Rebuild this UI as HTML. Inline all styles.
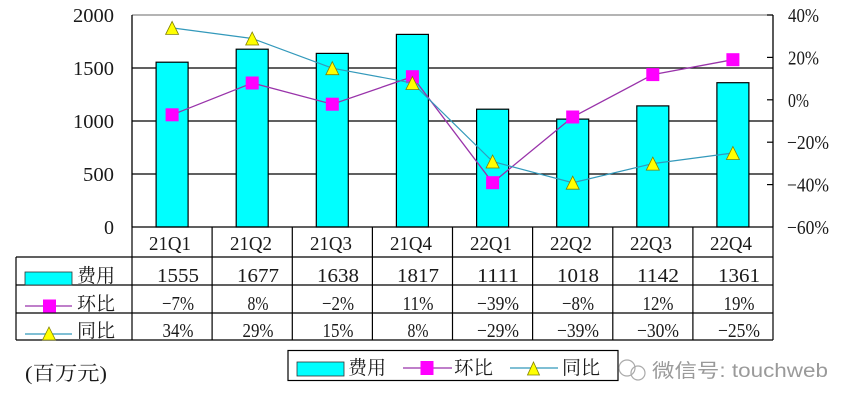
<!DOCTYPE html>
<html><head><meta charset="utf-8"><style>
html,body{margin:0;padding:0;background:#fff;}
svg{display:block;}
text{font-family:"Liberation Serif","Noto Serif CJK SC",serif;fill:#1a1a1a;}
.cj{font-family:"Liberation Serif","Noto Serif CJK SC",serif;}
</style></head><body>
<svg width="854" height="406" viewBox="0 0 854 406" xmlns="http://www.w3.org/2000/svg">
<rect width="854" height="406" fill="#fff"/>
<!-- gridlines -->
<line x1="132" y1="15" x2="773" y2="15" stroke="#888" stroke-width="1.2"/>
<g stroke="#000" stroke-width="1.3">
<line x1="132" y1="68" x2="773" y2="68"/>
<line x1="132" y1="121" x2="773" y2="121"/>
<line x1="132" y1="174" x2="773" y2="174"/>
</g>
<!-- bars -->
<g fill="#00ffff" stroke="#000" stroke-width="1.2">
<rect x="156.1" y="62.2" width="32" height="164.8"/>
<rect x="236.2" y="49.2" width="32" height="177.8"/>
<rect x="316.3" y="53.4" width="32" height="173.6"/>
<rect x="396.4" y="34.4" width="32" height="192.6"/>
<rect x="476.6" y="109.2" width="32" height="117.8"/>
<rect x="556.7" y="119.1" width="32" height="107.9"/>
<rect x="636.8" y="105.9" width="32" height="121.1"/>
<rect x="716.9" y="82.7" width="32" height="144.3"/>
</g>
<!-- axes -->
<line x1="132" y1="15" x2="132" y2="227" stroke="#000" stroke-width="1.3"/>
<line x1="773" y1="15" x2="773" y2="227" stroke="#000" stroke-width="1.3"/>
<g stroke="#000" stroke-width="1.2">
<line x1="767" y1="15" x2="773" y2="15"/>
<line x1="767" y1="57.4" x2="773" y2="57.4"/>
<line x1="767" y1="99.8" x2="773" y2="99.8"/>
<line x1="767" y1="142.2" x2="773" y2="142.2"/>
<line x1="767" y1="184.6" x2="773" y2="184.6"/>
</g>
<!-- 环比 line -->
<polyline fill="none" stroke="#9933aa" stroke-width="1.3" points="172.1,114.8 252.2,83 332.3,104.2 412.4,76.7 492.6,182.7 572.7,117 652.8,74.6 732.9,59.7"/>
<g fill="#ff00ff">
<rect x="165.6" y="108.3" width="13" height="13"/>
<rect x="245.7" y="76.5" width="13" height="13"/>
<rect x="325.8" y="97.7" width="13" height="13"/>
<rect x="405.9" y="70.2" width="13" height="13"/>
<rect x="486.1" y="176.2" width="13" height="13"/>
<rect x="566.2" y="110.5" width="13" height="13"/>
<rect x="646.3" y="68.1" width="13" height="13"/>
<rect x="726.4" y="53.2" width="13" height="13"/>
</g>
<!-- 同比 line -->
<polyline fill="none" stroke="#3399bb" stroke-width="1.2" points="172.1,27.9 252.2,38.5 332.3,68.2 412.4,83 492.6,161.5 572.7,182.7 652.8,163.6 732.9,153"/>
<g fill="#ffff00" stroke="#808000" stroke-width="0.8">
<polygon points="172.1,21.4 178.6,34.4 165.6,34.4"/>
<polygon points="252.2,32 258.7,45 245.7,45"/>
<polygon points="332.3,61.7 338.8,74.7 325.8,74.7"/>
<polygon points="412.4,76.5 418.9,89.5 405.9,89.5"/>
<polygon points="492.6,155 499.1,168 486.1,168"/>
<polygon points="572.7,176.2 579.2,189.2 566.2,189.2"/>
<polygon points="652.8,157.1 659.3,170.1 646.3,170.1"/>
<polygon points="732.9,146.5 739.4,159.5 726.4,159.5"/>
</g>
<!-- left axis labels -->
<g font-size="20" text-anchor="end">
<text x="114" y="22" textLength="41" lengthAdjust="spacingAndGlyphs">2000</text>
<text x="114" y="75" textLength="41" lengthAdjust="spacingAndGlyphs">1500</text>
<text x="114" y="128" textLength="41" lengthAdjust="spacingAndGlyphs">1000</text>
<text x="114" y="181" textLength="31" lengthAdjust="spacingAndGlyphs">500</text>
<text x="114" y="234">0</text>
</g>
<!-- right axis labels -->
<g font-size="20">
<text x="788" y="22" textLength="31" lengthAdjust="spacingAndGlyphs">40%</text>
<text x="788" y="64.4" textLength="31" lengthAdjust="spacingAndGlyphs">20%</text>
<text x="788" y="106.8" textLength="21" lengthAdjust="spacingAndGlyphs">0%</text>
<text x="787" y="149.2" textLength="42" lengthAdjust="spacingAndGlyphs">−20%</text>
<text x="787" y="191.6" textLength="42" lengthAdjust="spacingAndGlyphs">−40%</text>
<text x="787" y="234" textLength="42" lengthAdjust="spacingAndGlyphs">−60%</text>
</g>
<!-- table -->
<g stroke="#000" stroke-width="1.2">
<line x1="132" y1="227" x2="773" y2="227"/>
<line x1="16" y1="257" x2="773" y2="257"/>
<line x1="16" y1="285" x2="773" y2="285"/>
<line x1="16" y1="313" x2="773" y2="313"/>
<line x1="16" y1="340" x2="773" y2="340"/>
<line x1="16" y1="257" x2="16" y2="340"/>
<line x1="132" y1="227" x2="132" y2="340"/>
<line x1="212.1" y1="227" x2="212.1" y2="340"/>
<line x1="292.3" y1="227" x2="292.3" y2="340"/>
<line x1="372.4" y1="227" x2="372.4" y2="340"/>
<line x1="452.5" y1="227" x2="452.5" y2="340"/>
<line x1="532.6" y1="227" x2="532.6" y2="340"/>
<line x1="612.8" y1="227" x2="612.8" y2="340"/>
<line x1="692.9" y1="227" x2="692.9" y2="340"/>
<line x1="773" y1="227" x2="773" y2="340"/>
</g>
<g font-size="20" text-anchor="middle">
<text x="170" y="250" textLength="42" lengthAdjust="spacingAndGlyphs">21Q1</text>
<text x="251" y="250" textLength="42" lengthAdjust="spacingAndGlyphs">21Q2</text>
<text x="331" y="250" textLength="42" lengthAdjust="spacingAndGlyphs">21Q3</text>
<text x="411" y="250" textLength="42" lengthAdjust="spacingAndGlyphs">21Q4</text>
<text x="491" y="250" textLength="42" lengthAdjust="spacingAndGlyphs">22Q1</text>
<text x="571" y="250" textLength="42" lengthAdjust="spacingAndGlyphs">22Q2</text>
<text x="651" y="250" textLength="42" lengthAdjust="spacingAndGlyphs">22Q3</text>
<text x="731" y="250" textLength="42" lengthAdjust="spacingAndGlyphs">22Q4</text>

<text x="178" y="282" textLength="42" lengthAdjust="spacingAndGlyphs">1555</text>
<text x="258" y="282" textLength="42" lengthAdjust="spacingAndGlyphs">1677</text>
<text x="338" y="282" textLength="42" lengthAdjust="spacingAndGlyphs">1638</text>
<text x="418" y="282" textLength="42" lengthAdjust="spacingAndGlyphs">1817</text>
<text x="498" y="282" textLength="42" lengthAdjust="spacingAndGlyphs">1111</text>
<text x="578" y="282" textLength="42" lengthAdjust="spacingAndGlyphs">1018</text>
<text x="658" y="282" textLength="42" lengthAdjust="spacingAndGlyphs">1142</text>
<text x="739" y="282" textLength="42" lengthAdjust="spacingAndGlyphs">1361</text>

<text x="178" y="310" textLength="32" lengthAdjust="spacingAndGlyphs">−7%</text>
<text x="258" y="310" textLength="21" lengthAdjust="spacingAndGlyphs">8%</text>
<text x="338" y="310" textLength="32" lengthAdjust="spacingAndGlyphs">−2%</text>
<text x="418" y="310" textLength="31" lengthAdjust="spacingAndGlyphs">11%</text>
<text x="498" y="310" textLength="42" lengthAdjust="spacingAndGlyphs">−39%</text>
<text x="578" y="310" textLength="32" lengthAdjust="spacingAndGlyphs">−8%</text>
<text x="658" y="310" textLength="31" lengthAdjust="spacingAndGlyphs">12%</text>
<text x="739" y="310" textLength="31" lengthAdjust="spacingAndGlyphs">19%</text>

<text x="178" y="337" textLength="31" lengthAdjust="spacingAndGlyphs">34%</text>
<text x="258" y="337" textLength="31" lengthAdjust="spacingAndGlyphs">29%</text>
<text x="338" y="337" textLength="31" lengthAdjust="spacingAndGlyphs">15%</text>
<text x="418" y="337" textLength="21" lengthAdjust="spacingAndGlyphs">8%</text>
<text x="498" y="337" textLength="42" lengthAdjust="spacingAndGlyphs">−29%</text>
<text x="578" y="337" textLength="42" lengthAdjust="spacingAndGlyphs">−39%</text>
<text x="658" y="337" textLength="42" lengthAdjust="spacingAndGlyphs">−30%</text>
<text x="739" y="337" textLength="42" lengthAdjust="spacingAndGlyphs">−25%</text>
</g>
<!-- table legend keys -->
<rect x="25" y="272" width="47" height="13" fill="#00ffff" stroke="#333" stroke-width="0.8"/>
<text class="cj" x="77" y="282" font-size="19" textLength="38" lengthAdjust="spacingAndGlyphs">费用</text>
<line x1="25" y1="306" x2="72" y2="306" stroke="#9933aa" stroke-width="1.2"/>
<rect x="43" y="299.5" width="13" height="13" fill="#ff00ff"/>
<text class="cj" x="77" y="310" font-size="19" textLength="38" lengthAdjust="spacingAndGlyphs">环比</text>
<line x1="25" y1="334" x2="72" y2="334" stroke="#3399bb" stroke-width="1.2"/>
<polygon points="49,327 55.5,340 42.5,340" fill="#ffff00" stroke="#808000" stroke-width="0.8"/>
<text class="cj" x="77" y="337" font-size="19" textLength="38" lengthAdjust="spacingAndGlyphs">同比</text>
<!-- bottom legend -->
<rect x="288" y="350.5" width="330" height="30" fill="none" stroke="#000" stroke-width="1.2"/>
<rect x="297" y="362" width="47" height="14" fill="#00ffff" stroke="#333" stroke-width="0.8"/>
<text class="cj" x="348" y="374" font-size="19" textLength="38" lengthAdjust="spacingAndGlyphs">费用</text>
<line x1="403" y1="368" x2="452" y2="368" stroke="#9933aa" stroke-width="1.2"/>
<rect x="420.5" y="361" width="13" height="14" fill="#ff00ff"/>
<text class="cj" x="454" y="374" font-size="19" textLength="39" lengthAdjust="spacingAndGlyphs">环比</text>
<line x1="510" y1="368" x2="558" y2="368" stroke="#3399bb" stroke-width="1.2"/>
<polygon points="533.5,362 539.5,375 527.5,375" fill="#ffff00" stroke="#808000" stroke-width="0.8"/>
<text class="cj" x="562" y="374" font-size="19" textLength="38" lengthAdjust="spacingAndGlyphs">同比</text>
<!-- unit -->
<text class="cj" x="25" y="380" font-size="20" textLength="82" lengthAdjust="spacingAndGlyphs">(百万元)</text>
<!-- watermark -->
<g fill="none" stroke="#aaa" stroke-width="1.2">
<circle cx="627" cy="368" r="8"/>
<circle cx="638" cy="373" r="7"/>
</g>
<text x="652" y="377" font-size="19" style="font-family:'Liberation Sans','Noto Sans CJK SC',sans-serif;fill:#9a9a9a" textLength="176" lengthAdjust="spacingAndGlyphs">微信号: touchweb</text>
</svg>
</body></html>
